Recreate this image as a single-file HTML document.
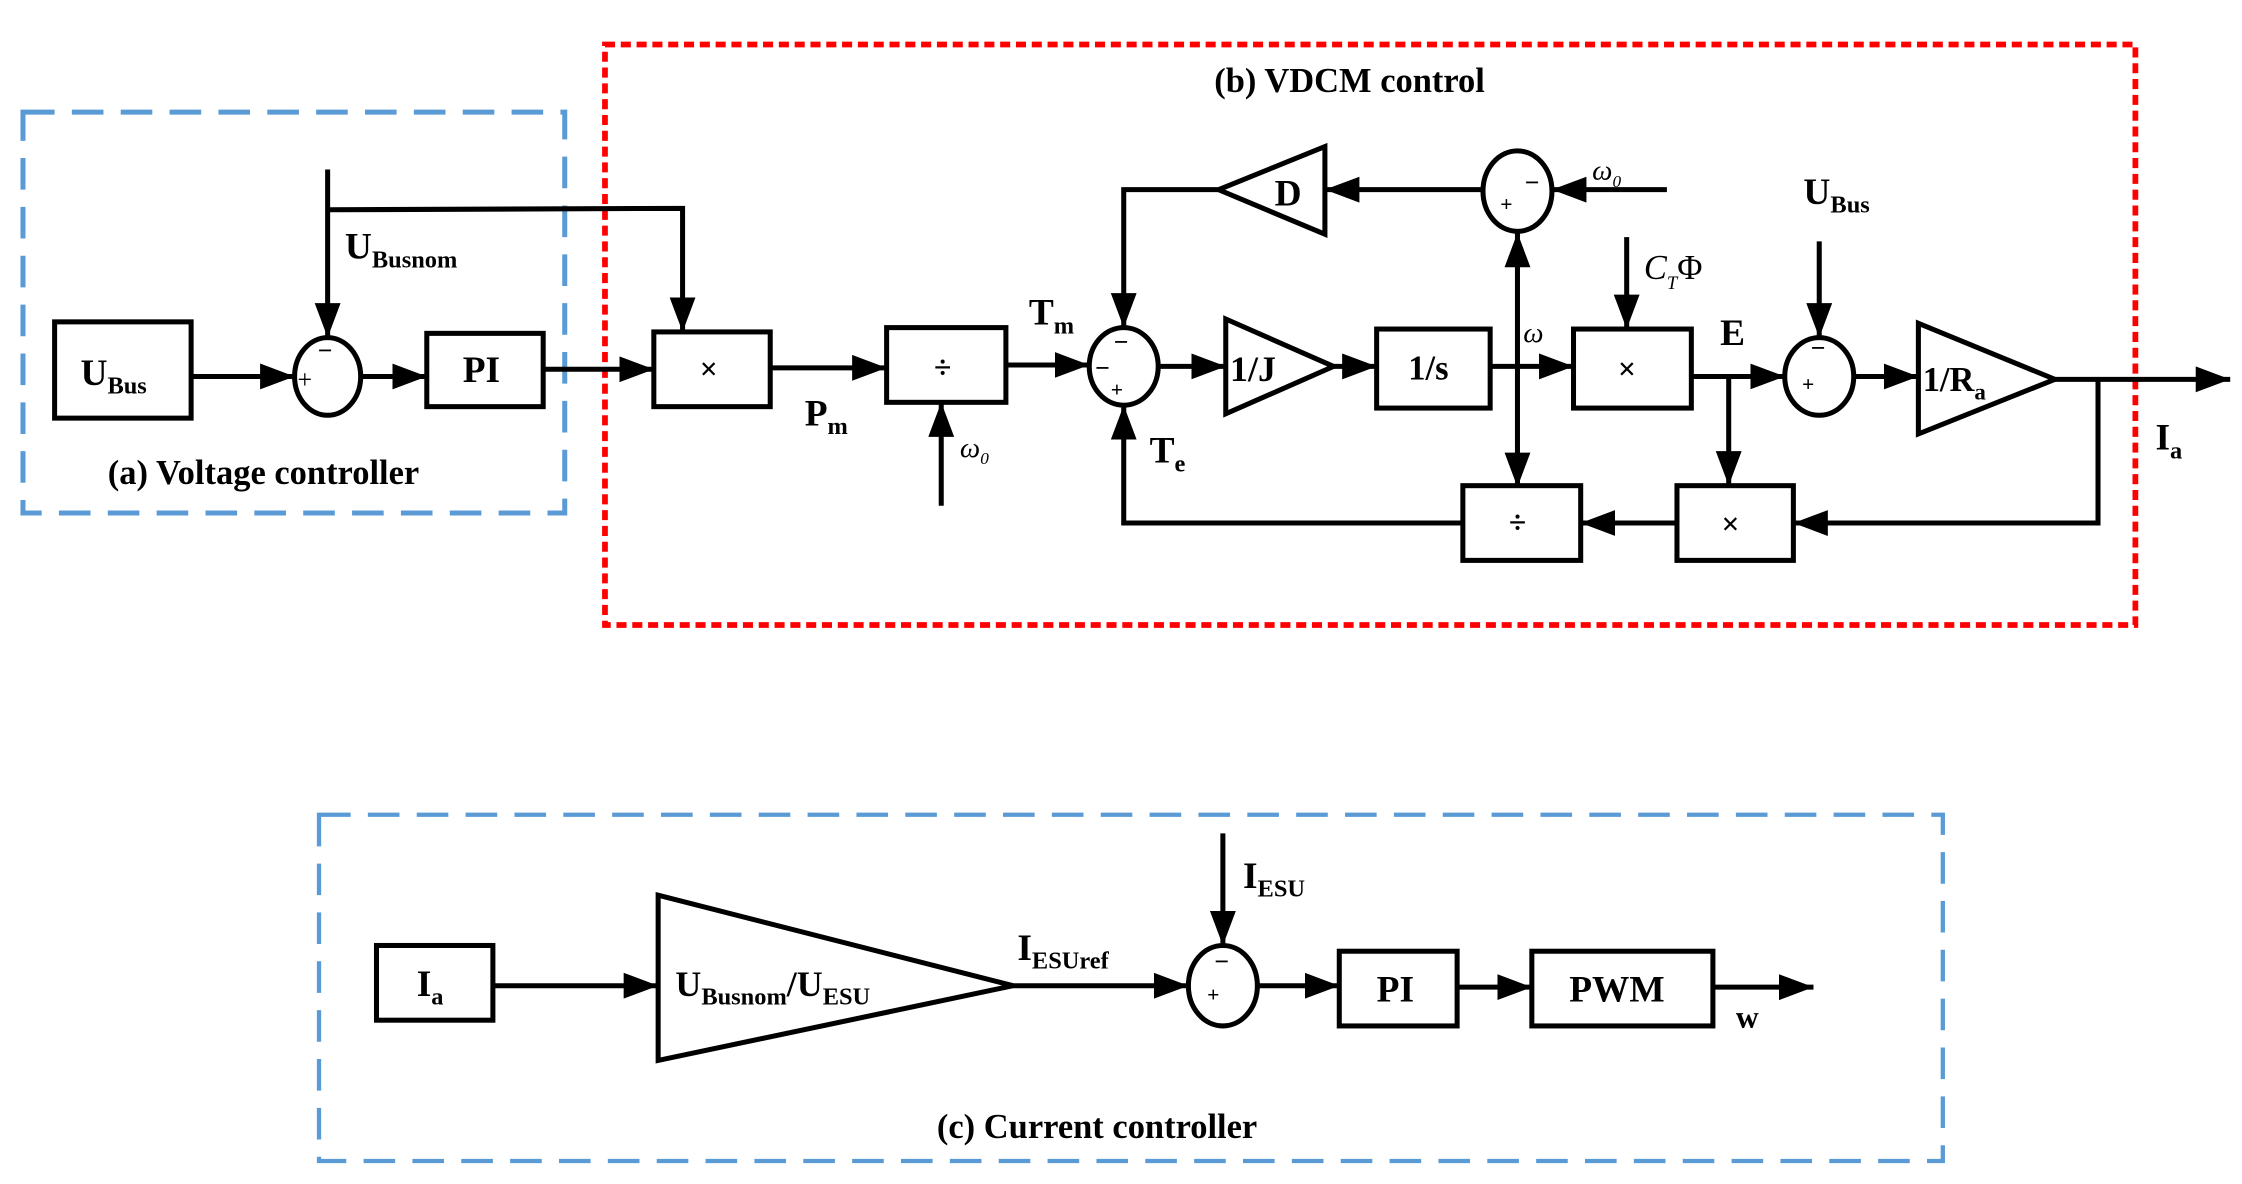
<!DOCTYPE html>
<html><head><meta charset="utf-8"><style>
html,body{margin:0;padding:0;background:#fff;}
svg{display:block;}
text{font-family:"Liberation Serif",serif;font-weight:bold;fill:#000;}
.it{font-style:italic;font-weight:normal;}
</style></head><body>
<svg width="2242" height="1184" viewBox="0 0 1560.2 824" preserveAspectRatio="none" xmlns="http://www.w3.org/2000/svg">
<defs>
<marker id="a" markerUnits="userSpaceOnUse" markerWidth="26" markerHeight="20" refX="24" refY="9" orient="auto">
<path d="M0,0 L24,9 L0,18 Z" fill="#000"/></marker>
</defs>
<g fill="none">
<rect x="16" y="78" width="377" height="279" stroke="#5b9bd5" stroke-width="3.5" stroke-dasharray="22,12"/>
<rect x="421" y="31" width="1065" height="404" stroke="#ff0000" stroke-width="4" stroke-dasharray="7,4"/>
<rect x="222" y="567" width="1130" height="241" stroke="#5b9bd5" stroke-width="3" stroke-dasharray="22,12"/>
</g>
<g stroke="#000" stroke-width="3.5" fill="none">
<!-- (a) -->
<rect x="38" y="224" width="95" height="67"/>
<ellipse cx="228" cy="262" rx="23" ry="27"/>
<rect x="297" y="232" width="81" height="51"/>
<line x1="133" y1="262" x2="205" y2="262" marker-end="url(#a)"/>
<line x1="251" y1="262" x2="297" y2="262" marker-end="url(#a)"/>
<line x1="228" y1="118" x2="228" y2="235" marker-end="url(#a)"/>
<polyline points="228,146 475,145 475,231" marker-end="url(#a)"/>
<line x1="378" y1="257" x2="455" y2="257" marker-end="url(#a)"/>
<!-- (b) -->
<rect x="455" y="231" width="81" height="52"/>
<rect x="617" y="228" width="83" height="52"/>
<line x1="536" y1="256" x2="617" y2="256" marker-end="url(#a)"/>
<line x1="655" y1="352" x2="655" y2="280" marker-end="url(#a)"/>
<ellipse cx="782" cy="255" rx="24" ry="27"/>
<line x1="700" y1="254" x2="758" y2="254" marker-end="url(#a)"/>
<polygon points="853,222 928,255 853,288"/>
<line x1="806" y1="255" x2="853" y2="255" marker-end="url(#a)"/>
<rect x="958" y="229" width="79" height="55"/>
<line x1="928" y1="255" x2="958" y2="255" marker-end="url(#a)"/>
<rect x="1095" y="229" width="82" height="55"/>
<line x1="1037" y1="255" x2="1095" y2="255" marker-end="url(#a)"/>
<ellipse cx="1056" cy="133" rx="24" ry="28"/>
<line x1="1056" y1="255" x2="1056" y2="162" marker-end="url(#a)"/>
<line x1="1056" y1="255" x2="1056" y2="339" marker-end="url(#a)"/>
<line x1="1160" y1="132" x2="1080" y2="132" marker-end="url(#a)"/>
<polygon points="922,102 848,132 922,163"/>
<line x1="1032" y1="132" x2="922" y2="132" marker-end="url(#a)"/>
<polyline points="848,132 782,132 782,228" marker-end="url(#a)"/>
<line x1="1132" y1="165" x2="1132" y2="229" marker-end="url(#a)"/>
<ellipse cx="1266" cy="262" rx="24" ry="27"/>
<line x1="1177" y1="262" x2="1242" y2="262" marker-end="url(#a)"/>
<line x1="1266" y1="168" x2="1266" y2="235" marker-end="url(#a)"/>
<line x1="1203" y1="262" x2="1203" y2="338" marker-end="url(#a)"/>
<rect x="1167" y="338" width="81" height="52"/>
<rect x="1018" y="338" width="82" height="52"/>
<line x1="1167" y1="364" x2="1100" y2="364" marker-end="url(#a)"/>
<polyline points="1018,364 782,364 782,282" marker-end="url(#a)"/>
<polygon points="1335,225 1430,264 1335,302"/>
<line x1="1290" y1="262" x2="1335" y2="262" marker-end="url(#a)"/>
<line x1="1430" y1="264" x2="1552" y2="264" marker-end="url(#a)"/>
<polyline points="1460,264 1460,364 1248,364" marker-end="url(#a)"/>
<!-- (c) -->
<rect x="262" y="658" width="81" height="52"/>
<line x1="343" y1="686" x2="458" y2="686" marker-end="url(#a)"/>
<polygon points="458,623 705,686 458,738"/>
<line x1="705" y1="686" x2="827" y2="686" marker-end="url(#a)"/>
<ellipse cx="851" cy="686" rx="24" ry="28"/>
<line x1="851" y1="580" x2="851" y2="658" marker-end="url(#a)"/>
<line x1="875" y1="686" x2="932" y2="686" marker-end="url(#a)"/>
<rect x="932" y="662" width="82" height="52"/>
<line x1="1014" y1="687" x2="1066" y2="687" marker-end="url(#a)"/>
<rect x="1066" y="662" width="126" height="52"/>
<line x1="1192" y1="687" x2="1262" y2="687" marker-end="url(#a)"/>
</g>
<!-- labels -->
<g font-size="26">
<text x="56" y="268">U<tspan font-size="17" dy="6">Bus</tspan></text>
<text x="240" y="180">U<tspan font-size="17" dy="6">Busnom</tspan></text>
<text x="322" y="266">PI</text>
<text x="75" y="337" font-size="24">(a) Voltage  controller</text>
<text x="845" y="64" font-size="24">(b) VDCM control</text>
<text x="487" y="264" font-weight="normal" font-size="22">×</text>
<text x="650" y="263" font-weight="normal" font-size="22">÷</text>
<text x="560" y="296">P<tspan font-size="17" dy="6">m</tspan></text>
<text x="716" y="226">T<tspan font-size="17" dy="6">m</tspan></text>
<text x="800" y="322">T<tspan font-size="17" dy="6">e</tspan></text>
<text x="856" y="265" font-size="25">1/J</text>
<text x="980" y="264" font-size="24">1/s</text>
<text x="887" y="143">D</text>
<text x="1126" y="264" font-weight="normal" font-size="22">×</text>
<text x="1198" y="372" font-weight="normal" font-size="22">×</text>
<text x="1050" y="371" font-weight="normal" font-size="22">÷</text>
<text x="1197" y="240">E</text>
<text x="1255" y="142">U<tspan font-size="17" dy="6">Bus</tspan></text>
<text x="1338" y="272" font-size="24">1/R<tspan font-size="16" dy="6">a</tspan></text>
<text x="1500" y="313">I<tspan font-size="17" dy="6">a</tspan></text>
<text x="1060" y="238" class="it" font-size="20">ω</text>
<text x="668" y="318" class="it" font-size="20">ω<tspan font-size="12" dy="5">0</tspan></text>
<text x="1108" y="125" class="it" font-size="20">ω<tspan font-size="12" dy="5">0</tspan></text>
<text x="1144" y="194" class="it" font-size="24">C<tspan font-size="13" dy="7">T</tspan><tspan dy="-7" font-style="normal">Φ</tspan></text>
<text x="290" y="693">I<tspan font-size="17" dy="6">a</tspan></text>
<text x="470" y="693" font-size="25">U<tspan font-size="17" dy="6">Busnom</tspan><tspan dy="-6">/U</tspan><tspan font-size="17" dy="6">ESU</tspan></text>
<text x="708" y="668">I<tspan font-size="17" dy="6">ESUref</tspan></text>
<text x="865" y="618">I<tspan font-size="17" dy="6">ESU</tspan></text>
<text x="958" y="697">PI</text>
<text x="1092" y="697">PWM</text>
<text x="1208" y="715" font-size="22">w</text>
<text x="652" y="792" font-size="24">(c) Current  controller</text>
</g>
<g font-size="18" font-family="Liberation Sans">
<text x="207" y="270" style="font-weight:normal">+</text>
<text x="221" y="250" style="font-weight:bold">−</text>
<text x="775" y="244">−</text>
<text x="762" y="262">−</text>
<text x="773" y="276" font-size="15">+</text>
<text x="1044" y="147" font-size="15">+</text>
<text x="1061" y="133">−</text>
<text x="1254" y="272" font-size="15">+</text>
<text x="1260" y="248">−</text>
<text x="840" y="697" font-size="15">+</text>
<text x="845" y="675">−</text>
</g>
</svg>
</body></html>
